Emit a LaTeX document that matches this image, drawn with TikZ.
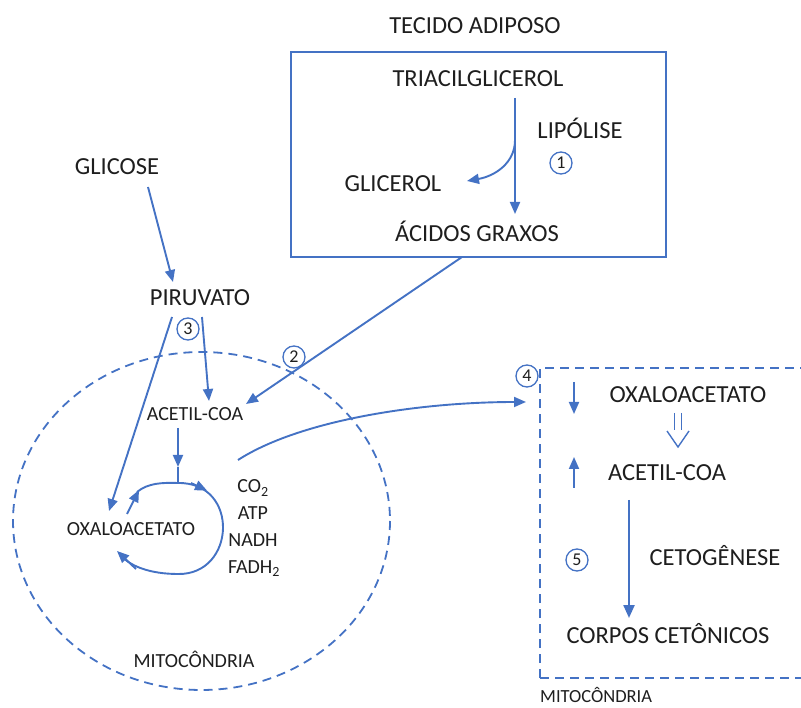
\documentclass[tikz,border=0pt]{standalone}
\usepackage{fontspec}
\setmainfont{Carlito}
\usetikzlibrary{arrows.meta}
\definecolor{bl}{HTML}{4472C4}
\definecolor{tx}{HTML}{1E1E1E}
\begin{document}
\begin{tikzpicture}[x=1pt,y=-1pt,
 big/.style={font=\fontsize{24.5}{28}\selectfont, text=tx, inner sep=0pt, anchor=base},
 small/.style={font=\fontsize{20}{24}\selectfont, text=tx, inner sep=0pt, anchor=base},
 num/.style={circle, draw=bl, line width=1.3pt, minimum size=22pt, inner sep=0pt, font=\fontsize{18}{20}\selectfont, text=tx},
 ln/.style={draw=bl, line width=1.9pt},
 arr/.style={ln, -{Triangle[length=12pt,width=10pt]}},
 dsh/.style={draw=bl, line width=1.8pt, dash pattern=on 9pt off 6pt},
]
\useasboundingbox (0,0) rectangle (801,708);
\clip (0,0) rectangle (801,708);

% ---------- adipose tissue ----------
\node[big] (tecido) at (475,34) {TECIDO ADIPOSO};
\node[draw=bl, line width=1.8pt, minimum width=375pt, minimum height=205pt, inner sep=0pt] (box) at (478.5,154.5) {};
\node[big] (tag) at (478,87) {TRIACILGLICEROL};
\node[big] (lip) at (580,139) {LIPÓLISE};
\node[num] (n1) at (561,163) {1};
\node[big] (glicerol) at (393,192) {GLICEROL};
\node[big] (ag) at (477,242) {ÁCIDOS GRAXOS};

\coordinate (t1) at (515,98);
\coordinate (t2) at (515,140);
\coordinate (t3) at (515,214);
\coordinate (gl) at (467,181);
\draw[arr] (t1) -- (t3);
\draw[arr] (t2) .. controls (515,163) and (495,176) .. (gl);

% ---------- glucose / pyruvate ----------
\node[big] (glicose) at (117,175) {GLICOSE};
\node[big] (piruvato) at (200,306) {PIRUVATO};
\node[num] (n3) at (188,329) {3};
\node[num] (n2) at (294,357) {2};

\coordinate (g1) at (148,187);
\coordinate (p0) at (173,282);
\draw[arr] (g1) -- (p0);

% ---------- mitochondrion (left) ----------
\draw[dsh] (201.5,521) ellipse [x radius=188.5, y radius=169];
\node[small] (acoa) at (195,421) {ACETIL-COA};
\node[small] (oxa) at (131,535) {OXALOACETATO};
\node[small] (co2) at (253,493) {CO\textsubscript{2}};
\node[small] (atp) at (253,519) {ATP};
\node[small] (nadh) at (253,546) {NADH};
\node[small] (fadh) at (254,573) {FADH\textsubscript{2}};
\node[small] (mito1) at (194,667) {MITOCÔNDRIA};

\coordinate (pa) at (172,317);
\coordinate (pb) at (202,317);
\coordinate (oxtip) at (109,511);
\coordinate (actip) at (209,401);
\coordinate (agb) at (462,257);
\coordinate (actip2) at (246,404);
\draw[arr] (pa) -- (oxtip);
\draw[arr] (pb) -- (actip);
\draw[arr] (agb) -- (actip2);

% Krebs cycle
\coordinate (c0) at (178,428);
\coordinate (cm) at (178,467);
\coordinate (ctop) at (178,483);
\draw[arr] (c0) -- (cm);
\draw[ln] (cm) -- (ctop);
\coordinate (k0) at (127,514);
\coordinate (k1) at (139,490);
\draw[arr] (k0) -- (k1);
\draw[ln] (137,492) .. controls (148,483) and (162,482.5) .. (ctop) .. controls (240,482) and (236,575) .. (178,574) .. controls (150,574) and (128,566) .. (119,553);
\draw[arr] (191,483) -- (207,490.5);
\draw[arr] (136,569) -- (117,551);

% ---------- right mitochondrion ----------
\coordinate (cs) at (238,460);
\coordinate (ce) at (526,402);
\draw[arr] (cs) .. controls (300,420) and (420,402) .. (ce);

\draw[dsh] (540,678) -- (540,368) -- (830,368);
\draw[dsh] (540,678) -- (830,678);
\node[num, fill=white] (n4) at (527,376) {4};
\node[big] (oxa2) at (688,403) {OXALOACETATO};
\node[big] (acoa2) at (667,481) {ACETIL-COA};
\node[num] (n5) at (577,560) {5};
\node[big] (ceto) at (715,565) {CETOGÊNESE};
\node[big] (corpos) at (668,643) {CORPOS CETÔNICOS};
\node[font=\fontsize{18.5}{22}\selectfont, text=tx, inner sep=0pt, anchor=base west] (mito2) at (540,702) {MITOCÔNDRIA};

\coordinate (d1) at (574,382);
\coordinate (d2) at (574,414);
\coordinate (u1) at (574,488);
\coordinate (u2) at (574,457);
\draw[arr] (d1) -- (d2);
\draw[arr] (u1) -- (u2);
\coordinate (k2a) at (629,500);
\coordinate (k2b) at (629,618);
\draw[ln, line width=2.3pt, -{Triangle[length=13pt,width=11pt]}] (k2a) -- (k2b);

% hollow double arrow
\draw[draw=bl, line width=1.4pt] (674.5,413) -- (674.5,430) (681.5,413) -- (681.5,430);
\draw[draw=bl, line width=1.4pt, line join=miter] (667,431) -- (678,447) -- (689,431);
\end{tikzpicture}
\end{document}
